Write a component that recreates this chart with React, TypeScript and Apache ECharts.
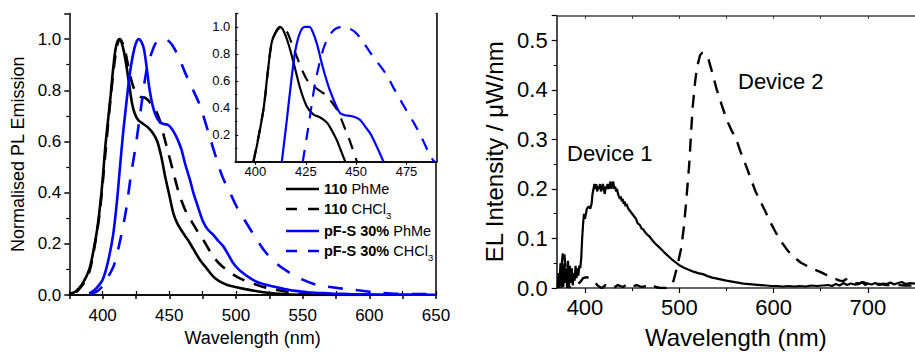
import React, { useEffect, useRef } from 'react';
import * as echarts from 'echarts';

const FONT = '"Liberation Sans", Arial, Helvetica, sans-serif';
const BLUE = '#0000ff';
const BLACK = '#000000';

// ---------- Left panel: PL spectra (main) ----------
const pl110PhMe: [number, number][] = [
  [375, 0.004], [380, 0.015], [385, 0.045], [390, 0.1], [393, 0.17], [396, 0.26], [398, 0.345],
  [400, 0.45], [402, 0.58], [404, 0.68], [406, 0.78], [408, 0.89], [410, 0.97], [412.5, 1.0],
  [414, 0.99], [416, 0.95], [418, 0.89], [420, 0.82], [422, 0.75], [424, 0.71], [426.5, 0.685],
  [430, 0.67], [434, 0.655], [438, 0.63], [441, 0.6], [444, 0.54], [447, 0.46], [450, 0.39],
  [453, 0.32], [456, 0.28], [460, 0.245], [464, 0.215], [468, 0.18], [473, 0.137], [478, 0.104],
  [483, 0.072], [488, 0.052], [493, 0.04], [498, 0.033], [505, 0.025], [511, 0.019], [518, 0.013],
  [525, 0.008], [535, 0.004], [548, 0.001], [560, 0], [600, 0],
];
const pl110CHCl3: [number, number][] = [
  [380, 0.01], [385, 0.04], [390, 0.09], [394, 0.19], [398, 0.33], [402, 0.55], [406, 0.77],
  [410, 0.95], [413, 1.0], [416, 0.97], [419, 0.9], [422, 0.83], [425, 0.79], [428, 0.775],
  [432, 0.77], [436, 0.75], [440, 0.72], [443, 0.68], [446, 0.62], [449, 0.56], [453, 0.48],
  [456, 0.42], [459, 0.37], [463, 0.32], [467, 0.285], [471, 0.25], [475.5, 0.215], [480, 0.175],
  [483, 0.15], [488, 0.12], [493, 0.098], [498, 0.08], [503, 0.065], [510, 0.05], [515.5, 0.04],
  [520, 0.032], [525.5, 0.026], [532, 0.019], [538, 0.013], [548, 0.006], [560, 0.002], [575, 0],
];
const plPFSPhMe: [number, number][] = [
  [390, 0.006], [395, 0.025], [400, 0.06], [404, 0.13], [408, 0.24], [411, 0.38], [413, 0.5],
  [415.5, 0.64], [418, 0.76], [420.5, 0.87], [423, 0.945], [425, 0.985], [427, 1.0], [429, 0.99],
  [431, 0.96], [433, 0.89], [435, 0.81], [437.5, 0.74], [440, 0.7], [443, 0.675], [446, 0.668],
  [449, 0.665], [451, 0.655], [453, 0.64], [456, 0.61], [459, 0.57], [462, 0.51], [465.5, 0.45],
  [468, 0.4], [470.5, 0.36], [473, 0.32], [475.5, 0.285], [479, 0.255], [483, 0.235], [487, 0.21],
  [490.5, 0.19], [494, 0.16], [498, 0.124], [502, 0.1], [505.5, 0.085], [510, 0.068], [515.5, 0.052],
  [521, 0.042], [528, 0.033], [535, 0.025], [543, 0.017], [552, 0.012], [560, 0.009], [572, 0.006],
  [585, 0.004], [610, 0.002], [650, 0.001],
];
const plPFSCHCl3: [number, number][] = [
  [390, 0.003], [395.5, 0.013], [400, 0.035], [404, 0.07], [408.5, 0.117], [413, 0.21],
  [417.5, 0.33], [421, 0.46], [425, 0.59], [429, 0.74], [433, 0.88], [437, 0.95], [440.5, 0.99],
  [444, 1.0], [446.75, 1.0], [450, 0.99], [453, 0.97], [457, 0.93], [461.75, 0.87], [467, 0.81],
  [473, 0.74], [479, 0.64], [485.5, 0.53], [490, 0.46], [495.5, 0.4], [501, 0.34], [506.75, 0.29],
  [514, 0.23], [521.75, 0.17], [530, 0.125], [539.25, 0.09], [550, 0.06], [560.5, 0.04],
  [575, 0.028], [589, 0.02], [600, 0.013], [606.75, 0.009], [620, 0.005], [650, 0.003],
];

// ---------- Left panel: inset ----------
const inset110PhMe: [number, number][] = [
  [399, 0], [401, 0.14], [404, 0.39], [406, 0.65], [408, 0.88], [410, 0.96], [412.2, 1.0],
  [414, 0.97], [416.5, 0.87], [419.7, 0.69], [422.5, 0.53], [425.5, 0.41], [428.8, 0.35],
  [432, 0.33], [435.5, 0.29], [438, 0.23], [440.4, 0.16], [442.5, 0.08], [444.6, 0],
];
const inset110CHCl3: [number, number][] = [
  [399, 0], [404, 0.39], [408, 0.88], [411, 0.98], [413.5, 1.0], [415.5, 0.97], [417.2, 0.91],
  [419, 0.84], [421.3, 0.75], [423.5, 0.67], [425.5, 0.61], [427.5, 0.57], [429.7, 0.55],
  [432.5, 0.52], [435.5, 0.49], [438, 0.44], [440.4, 0.39], [442.5, 0.32], [444.6, 0.24],
  [446.5, 0.17], [447.9, 0.11], [450.4, 0],
];
const insetPFSPhMe: [number, number][] = [
  [413.1, 0], [415.5, 0.3], [418.1, 0.64], [420, 0.84], [422.2, 0.96], [424.5, 1.0], [426.8, 1.0],
  [428.8, 0.95], [430.8, 0.86], [432.6, 0.75], [434.6, 0.64], [436.7, 0.54], [438.8, 0.46],
  [440.5, 0.4], [442.1, 0.36], [444.5, 0.345], [447.1, 0.34], [449.5, 0.33], [452, 0.31],
  [454.5, 0.26], [457, 0.21], [460, 0.12], [463.6, 0],
];
const insetPFSCHCl3: [number, number][] = [
  [423.5, 0], [426.3, 0.26], [428, 0.43], [429.7, 0.59], [431.8, 0.73], [433.8, 0.84], [436, 0.92],
  [438.8, 0.975], [441, 0.995], [443.7, 1.0], [446.5, 0.99], [449.6, 0.96], [453, 0.9], [457, 0.81],
  [461, 0.73], [465.3, 0.64], [468.5, 0.55], [471.9, 0.46], [475, 0.38], [478.6, 0.29],
  [482.5, 0.18], [486.9, 0.04], [488.9, 0],
];

// ---------- Right panel: EL spectra ----------
const elDevice1: [number, number][] = [
  [371, 0.0], [372, 0.03], [373, 0.005], [374, 0.05], [375, 0.0], [376, 0.045], [377, 0.002],
  [378, 0.05], [379, 0.01], [380, 0.04], [381, 0.0], [382, 0.055], [383, 0.005], [384, 0.045],
  [385, 0.01], [386, 0.04], [387, 0.005], [388, 0.03], [389, 0.015], [390, 0.045], [391, 0.02],
  [392, 0.04], [393, 0.025], [394, 0.045], [395, 0.04], [396, 0.06], [397, 0.1], [398, 0.13],
  [399, 0.15], [400, 0.14], [401, 0.15], [402, 0.16], [404, 0.165], [405.6, 0.16], [407, 0.17],
  [408, 0.19], [409, 0.2], [410, 0.21], [411, 0.2], [412, 0.21], [413, 0.195], [414, 0.205],
  [415, 0.2], [416, 0.21], [417, 0.195], [418, 0.2], [419, 0.21], [420, 0.2], [421, 0.19],
  [422, 0.205], [423, 0.2], [424, 0.21], [425, 0.2], [426, 0.205], [427, 0.215], [428, 0.2],
  [429, 0.21], [430, 0.215], [431, 0.2], [432, 0.205], [433, 0.195], [434, 0.2], [435, 0.19],
  [436, 0.185], [437, 0.18], [438, 0.185], [439, 0.175], [440, 0.18], [441, 0.17], [442, 0.175],
  [443, 0.165], [444, 0.17], [446, 0.16], [448, 0.155], [450, 0.15], [452, 0.145], [454, 0.14],
  [456, 0.13], [458, 0.128], [460, 0.12], [462, 0.118], [464, 0.112], [466, 0.108], [468, 0.105],
  [470, 0.1], [473, 0.093], [476, 0.087], [480, 0.08], [484, 0.072], [488, 0.065], [492, 0.058],
  [496, 0.052], [500, 0.046], [505, 0.041], [510, 0.037], [515, 0.033], [520, 0.03], [525, 0.028],
  [530, 0.024], [535, 0.021], [540, 0.019], [545, 0.017], [550, 0.015], [556, 0.013], [562, 0.011],
  [568, 0.009], [574, 0.008], [580, 0.007], [586, 0.006], [592, 0.005], [598, 0.004], [604, 0.004],
  [610, 0.003], [616, 0.004], [622, 0.003], [628, 0.004], [634, 0.003], [640, 0.005], [646, 0.004],
  [652, 0.005], [658, 0.006], [662, 0.004], [666, 0.008], [670, 0.005], [674, 0.01], [678, 0.006],
  [682, 0.009], [686, 0.007], [690, 0.008], [694, 0.012], [697, 0.006], [700, 0.009], [704, 0.007],
  [708, 0.01], [712, 0.006], [716, 0.009], [720, 0.008], [724, 0.011], [728, 0.007], [732, 0.01],
  [736, 0.012], [740, 0.008], [745, 0.01], [750, 0.009],
];
const elDevice2: [number, number][] = [
  [372, 0.0], [374, 0.02], [376, 0.06], [377, 0.078], [378, 0.07], [380, 0.03], [382, 0.005],
  [385, 0.0], [390, 0.005], [395, 0.012], [398, 0.02], [402, 0.022], [406, 0.018], [410, 0.012],
  [414, 0.004], [418, 0.0], [422, 0.006], [426, 0.003], [430, 0.0], [435, 0.006], [440, 0.002],
  [445, 0.008], [450, 0.003], [455, 0.006], [460, 0.002], [465, 0.004], [470, 0.008], [475, 0.002],
  [480, 0.0], [486, 0.0], [490, 0.002], [494, 0.015], [498, 0.045], [502, 0.08], [505, 0.125],
  [507, 0.168], [510.5, 0.248], [514, 0.361], [517, 0.42], [519.1, 0.448], [522, 0.47],
  [524.3, 0.475], [527, 0.474], [531.1, 0.461], [535, 0.435], [539.7, 0.401], [545, 0.37],
  [550, 0.341], [555, 0.32], [560.3, 0.301], [565, 0.275], [570.6, 0.248], [576, 0.22],
  [580.9, 0.195], [586, 0.175], [591.2, 0.155], [596, 0.135], [601.5, 0.115], [608, 0.094],
  [615.2, 0.075], [622, 0.062], [629, 0.051], [636, 0.044], [642.7, 0.038], [650, 0.032],
  [656.4, 0.026], [663, 0.02], [670.2, 0.015], [674, 0.014], [677, 0.018], [681, 0.012],
  [686, 0.01], [690.8, 0.009], [695, 0.012], [700, 0.008], [706, 0.007], [712, 0.008],
  [720, 0.006], [730, 0.006], [740, 0.005], [750, 0.005],
];

// ---------- Tick values ----------
const insetXTicks = [400, 425, 450, 475];
const insetYLabels = [0.2, 0.4, 0.6, 0.8, 1.0];
const elXMajor = [400, 500, 600, 700];
const elXMinor = [450, 550, 650, 750];
const elXTop = [400, 450, 500, 550, 600, 650, 700, 750];

const legendItems = [
  { bold: '110', rest: ' PhMe', sub: '', color: BLACK, dashed: false },
  { bold: '110', rest: ' CHCl', sub: '3', color: BLACK, dashed: true },
  { bold: 'pF-S 30%', rest: ' PhMe', sub: '', color: BLUE, dashed: false },
  { bold: 'pF-S 30%', rest: ' CHCl', sub: '3', color: BLUE, dashed: true },
];

const axisLineBlack = { show: true, lineStyle: { color: BLACK, width: 1.5 } };

function buildOption(): any {
  const line = (data: [number, number][], color: string, dashed: boolean, xi: number, yi: number, width: number, dash: number[], smooth: boolean | number) => ({
    type: 'line',
    data,
    xAxisIndex: xi,
    yAxisIndex: yi,
    showSymbol: false,
    symbol: 'none',
    smooth,
    clip: true,
    lineStyle: { color, width, type: dashed ? dash : 'solid' },
    z: 3,
  });

  const graphic: any[] = [];
  const rowsY = [189, 209, 231, 251];
  legendItems.forEach((it, i) => {
    const y = rowsY[i];
    graphic.push({
      type: 'line',
      shape: { x1: 286, y1: y, x2: 319, y2: y },
      style: { stroke: it.color, lineWidth: 2.5, lineDash: it.dashed ? [11, 11] : null },
      z: 10,
    });
    graphic.push({
      type: 'text',
      x: 324,
      y,
      style: {
        text: `{b|${it.bold}}{r|${it.rest}}` + (it.sub ? `{s|${it.sub}}` : ''),
        verticalAlign: 'middle',
        fill: BLACK,
        fontFamily: FONT,
        fontSize: 14.5,
        rich: {
          b: { fontWeight: 'bold', fontSize: 14.5, fontFamily: FONT, fill: BLACK },
          r: { fontSize: 14.5, fontFamily: FONT, fill: BLACK },
          s: { fontSize: 9.5, fontFamily: FONT, fill: BLACK, padding: [13, 0, 0, 0] },
        },
      },
      z: 10,
    });
  });
  graphic.push({
    type: 'text', x: 567, y: 153,
    style: { text: 'Device 1', fontFamily: FONT, fontSize: 22, fill: BLACK, verticalAlign: 'middle' },
    z: 10,
  });
  graphic.push({
    type: 'text', x: 738, y: 81,
    style: { text: 'Device 2', fontFamily: FONT, fontSize: 22, fill: BLACK, verticalAlign: 'middle' },
    z: 10,
  });

  return {
    animation: false,
    backgroundColor: '#ffffff',
    textStyle: { fontFamily: FONT, color: BLACK },
    grid: [
      { left: 69.3, top: 13.5, width: 366.7, height: 281.5, show: false },
      { left: 235.3, top: 13.5, width: 201.4, height: 148.2, show: true, backgroundColor: '#ffffff', borderWidth: 0, z: 2 },
      { left: 556.7, top: 15.7, width: 369, height: 275, show: false },
    ],
    xAxis: [
      {
        gridIndex: 0, type: 'value', position: 'bottom', min: 375, max: 650, interval: 25,
        axisLine: axisLineBlack,
        axisTick: { show: true, inside: false, length: 4, lineStyle: { color: BLACK, width: 1.5 } },
        axisLabel: { fontSize: 17, color: BLACK, fontFamily: FONT, margin: 12, formatter: (v: number) => (v % 50 === 0 ? String(v) : '') },
        splitLine: { show: false },
        name: 'Wavelength (nm)', nameLocation: 'middle', nameGap: 33,
        nameTextStyle: { fontSize: 18, color: BLACK, fontFamily: FONT },
      },
      {
        gridIndex: 0, type: 'value', position: 'top', min: 375, max: 650, interval: 25,
        axisLine: axisLineBlack,
        axisTick: { show: true, inside: false, length: 4, lineStyle: { color: BLACK, width: 1.2 } },
        axisLabel: { show: false }, splitLine: { show: false },
      },
      {
        gridIndex: 1, type: 'value', position: 'bottom', min: 390, max: 490, z: 5,
        axisLine: axisLineBlack,
        axisTick: { show: true, inside: false, length: 3, customValues: insetXTicks, lineStyle: { color: BLACK, width: 1.2 } },
        axisLabel: { fontSize: 13, color: BLACK, fontFamily: FONT, margin: 3, customValues: insetXTicks },
        splitLine: { show: false },
      },
      {
        gridIndex: 1, type: 'value', position: 'top', min: 390, max: 490, z: 5,
        axisLine: axisLineBlack,
        axisTick: { show: false }, axisLabel: { show: false }, splitLine: { show: false },
      },
      {
        gridIndex: 2, type: 'value', position: 'bottom', min: 370, max: 750,
        axisLine: { show: true, lineStyle: { color: '#333', width: 1.5 } },
        axisTick: { show: true, inside: false, length: 5, customValues: elXMajor, lineStyle: { color: BLACK, width: 1.2 } },
        axisLabel: { fontSize: 22, color: BLACK, fontFamily: FONT, margin: 8, customValues: elXMajor },
        splitLine: { show: false },
        name: 'Wavelength (nm)', nameLocation: 'middle', nameGap: 37,
        nameTextStyle: { fontSize: 24, color: BLACK, fontFamily: FONT },
      },
      {
        gridIndex: 2, type: 'value', position: 'bottom', min: 370, max: 750,
        axisLine: { show: false },
        axisTick: { show: true, inside: false, length: 3, customValues: elXMinor, lineStyle: { color: BLACK, width: 1 } },
        axisLabel: { show: false }, splitLine: { show: false },
      },
      {
        gridIndex: 2, type: 'value', position: 'top', min: 370, max: 750,
        axisLine: { show: true, lineStyle: { color: '#444', width: 1.5 } },
        axisTick: { show: true, inside: true, length: 3, customValues: elXTop, lineStyle: { color: '#333', width: 1 } },
        axisLabel: { show: false }, splitLine: { show: false },
      },
    ],
    yAxis: [
      {
        gridIndex: 0, type: 'value', position: 'left', min: 0, max: 1.1, interval: 0.2,
        axisLine: axisLineBlack,
        axisTick: { show: true, inside: false, length: 5, lineStyle: { color: BLACK, width: 1.5 } },
        minorTick: { show: true, splitNumber: 2, length: 3, lineStyle: { color: BLACK, width: 1.2 } },
        axisLabel: { fontSize: 17, color: BLACK, fontFamily: FONT, margin: 8, showMaxLabel: false, formatter: (v: number) => v.toFixed(1) },
        splitLine: { show: false },
        name: 'Normalised PL Emission', nameLocation: 'middle', nameGap: 42,
        nameTextStyle: { fontSize: 18, color: BLACK, fontFamily: FONT },
      },
      {
        gridIndex: 0, type: 'value', position: 'right', min: 0, max: 1.1,
        axisLine: axisLineBlack, axisTick: { show: false }, axisLabel: { show: false }, splitLine: { show: false },
      },
      {
        gridIndex: 1, type: 'value', position: 'left', min: 0, max: 1.1, interval: 0.2, z: 5,
        axisLine: axisLineBlack,
        axisTick: { show: true, inside: true, length: 3, lineStyle: { color: BLACK, width: 1.2 } },
        minorTick: { show: true, splitNumber: 2, length: 2, lineStyle: { color: BLACK, width: 1 } },
        axisLabel: { fontSize: 13, color: BLACK, fontFamily: FONT, margin: 5, customValues: insetYLabels, formatter: (v: number) => v.toFixed(1) },
        splitLine: { show: false },
      },
      {
        gridIndex: 1, type: 'value', position: 'right', min: 0, max: 1.1, z: 5,
        axisLine: axisLineBlack, axisTick: { show: false }, axisLabel: { show: false }, splitLine: { show: false },
      },
      {
        gridIndex: 2, type: 'value', position: 'left', min: 0, max: 0.55, interval: 0.1,
        axisLine: { show: true, lineStyle: { color: '#111', width: 1.5 } },
        axisTick: { show: true, inside: false, length: 5, lineStyle: { color: BLACK, width: 1.2 } },
        minorTick: { show: true, splitNumber: 2, length: 3, lineStyle: { color: BLACK, width: 1 } },
        axisLabel: { fontSize: 22, color: BLACK, fontFamily: FONT, margin: 9, showMaxLabel: false, formatter: (v: number) => v.toFixed(1) },
        splitLine: { show: false },
        name: 'EL Intensity / \u03bcW/nm', nameLocation: 'middle', nameGap: 50,
        nameTextStyle: { fontSize: 24, color: BLACK, fontFamily: FONT },
      },
    ],
    series: [
      line(pl110CHCl3, BLACK, true, 0, 0, 2.6, [13, 10], 0.3),
      line(pl110PhMe, BLACK, false, 0, 0, 2.6, [], 0.3),
      line(plPFSCHCl3, BLUE, true, 0, 0, 2.6, [15, 13], 0.3),
      line(plPFSPhMe, BLUE, false, 0, 0, 2.6, [], 0.3),
      { ...line(inset110CHCl3, BLACK, true, 2, 2, 2.2, [12, 9], 0.3), z: 6 },
      { ...line(inset110PhMe, BLACK, false, 2, 2, 2.2, [], 0.3), z: 6 },
      { ...line(insetPFSCHCl3, BLUE, true, 2, 2, 2.2, [12, 10], 0.3), z: 6 },
      { ...line(insetPFSPhMe, BLUE, false, 2, 2, 2.2, [], 0.3), z: 6 },
      line(elDevice2, BLACK, true, 4, 4, 2.4, [13, 9], false),
      line(elDevice1, BLACK, false, 4, 4, 2.2, [], false),
    ],
    graphic,
  };
}

export default function App() {
  const ref = useRef<HTMLDivElement>(null);
  useEffect(() => {
    if (!ref.current) return;
    const chart = echarts.init(ref.current, null, { renderer: 'svg' });
    chart.setOption(buildOption());
    return () => {
      chart.dispose();
    };
  }, []);
  return (
    <div
      ref={ref}
      style={{ position: 'fixed', left: 0, top: 0, width: 915, height: 354, background: '#ffffff' }}
    />
  );
}
